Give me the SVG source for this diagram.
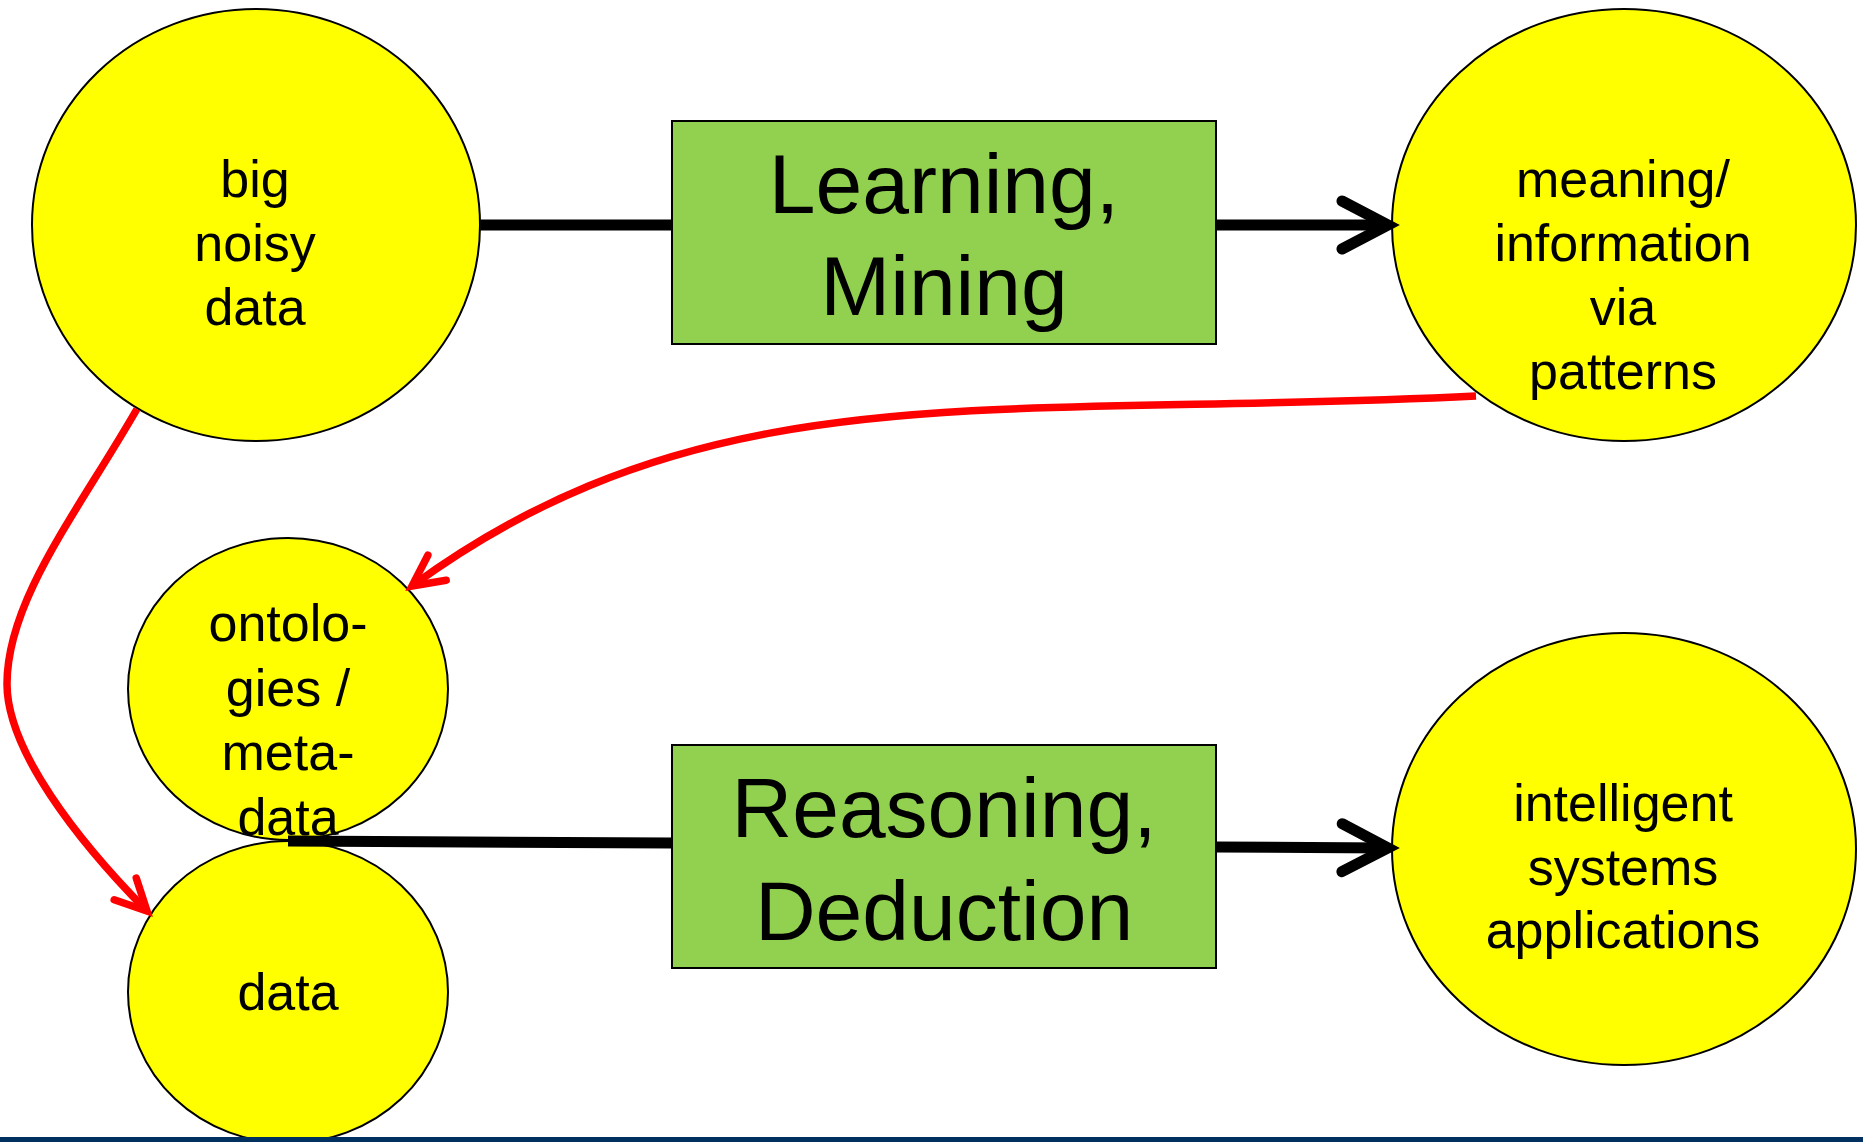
<svg xmlns="http://www.w3.org/2000/svg" width="1863" height="1142" viewBox="0 0 1863 1142">
<style>
.node ellipse{fill:#FFFF00;stroke:#000;stroke-width:2}
.box rect{fill:#92D050;stroke:#000;stroke-width:2}
.t{font-family:"Liberation Sans",Arial,sans-serif;font-size:52px;fill:#000;text-anchor:middle}
.tb{font-family:"Liberation Sans",Arial,sans-serif;font-size:84px;fill:#000;text-anchor:middle}
.blk{fill:none;stroke:#000;stroke-width:11}
.red{fill:none;stroke:#FF0000;stroke-width:7.5}
</style>
<defs>
<marker id="ab" markerUnits="userSpaceOnUse" markerWidth="120" markerHeight="120" refX="0" refY="0" orient="auto" overflow="visible">
<path d="M-46,-24 L0,0 L-46,24" fill="none" stroke="#000" stroke-width="11" stroke-linecap="round" stroke-linejoin="miter"/>
</marker>
<marker id="ar" markerUnits="userSpaceOnUse" markerWidth="120" markerHeight="120" refX="0" refY="0" orient="auto" overflow="visible">
<path d="M-31,-15.5 L0,0 L-31,15.5" fill="none" stroke="#FF0000" stroke-width="7.5" stroke-linecap="round" stroke-linejoin="miter"/>
</marker>
</defs>
<rect x="0" y="0" width="1863" height="1142" fill="#FFFFFF"/>
<g id="n-bignoisy" class="node">
<ellipse cx="256" cy="225" rx="224" ry="216"/>
<text class="t" x="255" y="197">big</text>
<text class="t" x="255" y="261">noisy</text>
<text class="t" x="255" y="325">data</text>
</g>
<g id="n-meaning" class="node">
<ellipse cx="1624" cy="225" rx="232" ry="216"/>
<text class="t" x="1623" y="197">meaning/</text>
<text class="t" x="1623" y="261">information</text>
<text class="t" x="1623" y="325">via</text>
<text class="t" x="1623" y="389">patterns</text>
</g>
<g id="n-data" class="node">
<ellipse cx="288" cy="992" rx="160" ry="151"/>
<text class="t" x="288" y="1010">data</text>
</g>
<g id="n-ontologies" class="node">
<ellipse cx="288" cy="689" rx="160" ry="151"/>
<text class="t" x="288" y="641">ontolo-</text>
<text class="t" x="288" y="706">gies /</text>
<text class="t" x="288" y="770">meta-</text>
<text class="t" x="288" y="835">data</text>
</g>
<g id="n-intelligent" class="node">
<ellipse cx="1624" cy="849" rx="232" ry="216"/>
<text class="t" x="1623" y="821">intelligent</text>
<text class="t" x="1623" y="885">systems</text>
<text class="t" x="1623" y="948">applications</text>
</g>
<g id="n-learning" class="box">
<rect x="672" y="121" width="544" height="223"/>
<text class="tb" x="944" y="213">Learning,</text>
<text class="tb" x="944" y="315">Mining</text>
</g>
<g id="n-reasoning" class="box">
<rect x="672" y="745" width="544" height="223"/>
<text class="tb" x="944" y="837">Reasoning,</text>
<text class="tb" x="944" y="940">Deduction</text>
</g>
<g id="connectors">
<line class="blk" x1="480" y1="225" x2="672" y2="225"/>
<line class="blk" x1="1216" y1="225" x2="1388" y2="225" marker-end="url(#ab)"/>
<line class="blk" x1="288" y1="841" x2="672" y2="843"/>
<line class="blk" x1="1216" y1="847" x2="1388" y2="848" marker-end="url(#ab)"/>
<path class="red" d="M1476,396 C1000,420 712,367 412,586" marker-end="url(#ar)"/>
<path class="red" d="M137,409 C77,513 7,600 7,684 C7,750 77,840 147,911" marker-end="url(#ar)"/>
</g>
<rect x="0" y="1137" width="1863" height="5" fill="#00305F"/>
</svg>
